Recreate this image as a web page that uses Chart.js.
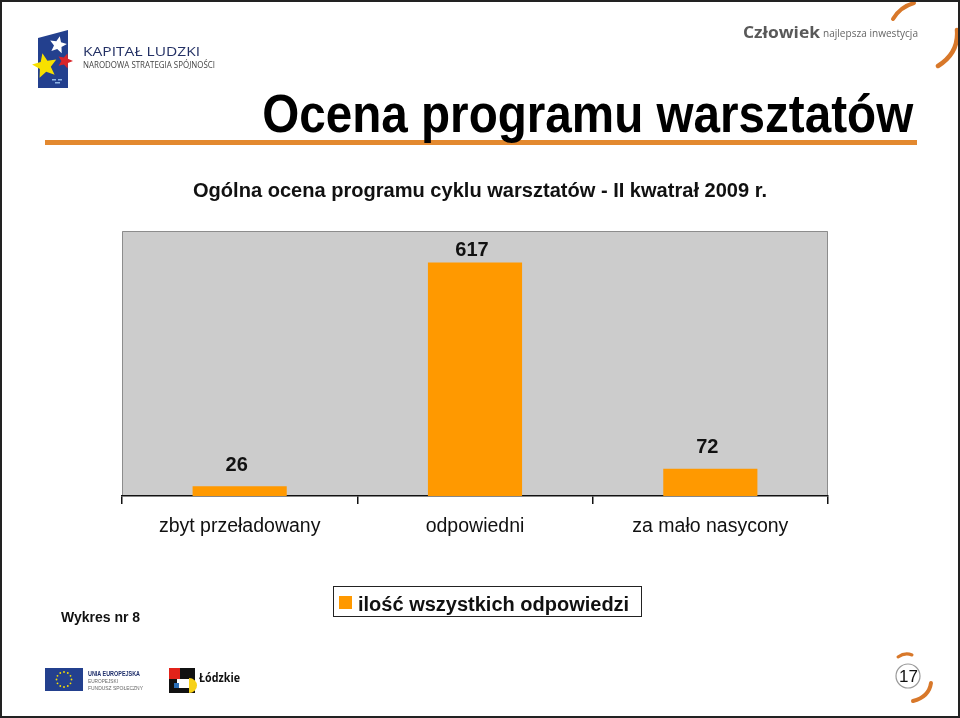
<!DOCTYPE html>
<html lang="pl">
<head>
  <meta charset="UTF-8" />
  <title>Ocena programu warsztatów</title>
  <script src="https://cdn.jsdelivr.net/npm/chart.js"></script>
  <style>
    html, body { margin: 0; padding: 0; background: #fff; }
    body { font-family: "Liberation Sans", Arial, sans-serif; }
    .slide { position: relative; width: 960px; height: 718px; overflow: hidden; background: #fff; }
    .frame {
      position: absolute; left: 0; top: 0; width: 960px; height: 718px;
      box-sizing: border-box; border: 2px solid #222; z-index: 5; pointer-events: none;
    }
    #chart { position: absolute; left: 0; top: 0; z-index: 1; }
    .deco { position: absolute; left: 0; top: 0; z-index: 2; }
    .txt { position: absolute; white-space: nowrap; line-height: 1; z-index: 3; transform-origin: left top; }
    .title { font-size: 54px; font-weight: bold; color: #000; right: 47px; top: 86px; transform-origin: right top; }
    .rule { position: absolute; left: 45px; top: 140px; width: 872px; height: 5px; background: #e3892f; z-index: 2; }
    .subtitle { font-size: 20px; font-weight: bold; color: #111; left: 193px; top: 180px; }
    .kl1 { font-family: "Open Sans", sans-serif; font-size: 13.5px; color: #233064; left: 83px; top: 45px; }
    .kl2 { font-family: "Open Sans", sans-serif; font-size: 8.5px; color: #444; left: 83px; top: 61px; }
    .czl1 { font-family: "Open Sans", sans-serif; font-size: 16px; font-weight: bold; color: #595959; left: 743px; top: 24px; }
    .czl2 { font-family: "Open Sans", sans-serif; font-size: 10px; color: #666; left: 823px; top: 28px; }
    .wykres { font-size: 14px; font-weight: bold; color: #111; left: 61px; top: 610px; }
    .legend {
      position: absolute; left: 333px; top: 586px; width: 309px; height: 31px;
      box-sizing: border-box; border: 1px solid #222; z-index: 3;
    }
    .legend .sw { position: absolute; left: 5px; top: 9px; width: 13px; height: 13px; }
    .legend .lt { position: absolute; left: 24px; top: 7px; font-size: 20px; font-weight: bold; color: #111; line-height: 1; white-space: nowrap; }
    .eu1 { font-size: 6.5px; font-weight: bold; color: #1f2f6b; left: 88px; top: 671px; }
    .eu2 { font-size: 6px; color: #666; left: 88px; top: 678px; }
    .eu3 { font-size: 6px; color: #666; left: 88px; top: 685px; }
    .lodz { font-family: "Open Sans", sans-serif; font-size: 12.5px; font-weight: bold; color: #111; left: 199px; top: 672px; }
    .page { font-size: 17px; color: #111; left: 899px; top: 668px; }
  </style>
</head>
<body>
  <div class="slide">
    <canvas id="chart" width="960" height="718"></canvas>

    <svg class="deco" width="960" height="718" id="deco">
      <!-- Kapitał Ludzki logo -->
      <polygon points="38,38 68,30 68,88 38,88" fill="#23408e" />
      <polygon id="starWhite" fill="#ffffff" />
      <polygon id="starRed" fill="#d9262b" />
      <polygon id="starYellow" fill="#f7e000" />
      <rect x="52" y="79" width="4" height="1.5" fill="#8fb6e6" />
      <rect x="58" y="79" width="4" height="1.5" fill="#8fb6e6" />
      <rect x="55" y="82" width="5" height="1.5" fill="#8fb6e6" />
      <!-- orange arcs top right -->
      <path d="M 893 19 Q 900 7 914 3" stroke="#d8782a" stroke-width="4" fill="none" stroke-linecap="round" />
      <path d="M 957 30 Q 959 53 938 66" stroke="#d8782a" stroke-width="4.5" fill="none" stroke-linecap="round" />
      <!-- EU flag -->
      <rect x="45" y="668" width="38" height="23" fill="#23408e" />
      <g id="euStars" fill="#f7e000"></g>
      <!-- Lodzkie logo -->
      <rect x="169" y="668" width="26" height="25" fill="#111" />
      <rect x="169" y="668" width="11" height="11" fill="#e2231a" />
      <rect x="177" y="679" width="12" height="9" fill="#ffffff" />
      <rect x="174" y="683" width="5" height="5" fill="#2a6fb8" />
      <path d="M 189 678 A 8 7.5 0 0 1 189 693 Z" fill="#f7d117" />
      <!-- page number -->
      <circle cx="908" cy="676" r="12" stroke="#9a9a9a" stroke-width="1.2" fill="none" />
      <path d="M 898 657 Q 905 652 912 655" stroke="#d8782a" stroke-width="3" fill="none" stroke-linecap="round" />
      <path d="M 931 683 Q 929 697 913 701" stroke="#d8782a" stroke-width="4" fill="none" stroke-linecap="round" />
    </svg>

    <div class="txt kl1" data-w="117">KAPITAŁ LUDZKI</div>
    <div class="txt kl2" data-w="132">NARODOWA STRATEGIA SPÓJNOŚCI</div>
    <div class="txt czl1" data-w="77">Człowiek</div>
    <div class="txt czl2" data-w="95">najlepsza inwestycja</div>

    <div class="txt title" data-w="651">Ocena programu warsztatów</div>
    <div class="rule"></div>
    <div class="txt subtitle" data-w="574">Ogólna ocena programu cyklu warsztatów - II kwatrał 2009 r.</div>

    <div class="txt wykres">Wykres nr 8</div>
    <div class="legend" id="legend"></div>

    <div class="txt eu1" data-w="52">UNIA EUROPEJSKA</div>
    <div class="txt eu2" data-w="30">EUROPEJSKI</div>
    <div class="txt eu3" data-w="55">FUNDUSZ SPOŁECZNY</div>
    <div class="txt lodz" data-w="41">Łódzkie</div>
    <div class="txt page">17</div>

    <div class="frame"></div>
  </div>

  <script>
    // data
    const categories = ['zbyt przeładowany', 'odpowiedni', 'za mało nasycony'];
    const responses = [26, 617, 72];
    const seriesLabel = 'ilość wszystkich odpowiedzi';
    const yMax = 700;

    const barColor = '#ff9900';

    // legend (html, below the chart)
    document.getElementById('legend').innerHTML =
      `<div class="sw" style="background:${barColor}"></div><div class="lt">${seriesLabel}</div>`;

    // small logo shapes
    function starPoints(cx, cy, r, rot) {
      const pts = [];
      for (let i = 0; i < 10; i++) {
        const rr = i % 2 ? r * 0.45 : r;
        const a = rot + i * Math.PI / 5 - Math.PI / 2;
        pts.push((cx + rr * Math.cos(a)).toFixed(1) + ',' + (cy + rr * Math.sin(a)).toFixed(1));
      }
      return pts.join(' ');
    }
    document.getElementById('starWhite').setAttribute('points', starPoints(58, 45, 9, 0.2));
    document.getElementById('starRed').setAttribute('points', starPoints(65, 61, 8, 0.3));
    document.getElementById('starYellow').setAttribute('points', starPoints(45, 66, 13, -0.2));
    const euStars = document.getElementById('euStars');
    for (let i = 0; i < 12; i++) {
      const a = i * Math.PI / 6;
      const c = document.createElementNS('http://www.w3.org/2000/svg', 'circle');
      c.setAttribute('cx', (64 + 7.5 * Math.cos(a)).toFixed(1));
      c.setAttribute('cy', (679.5 + 7.5 * Math.sin(a)).toFixed(1));
      c.setAttribute('r', '0.9');
      euStars.appendChild(c);
    }

    // squeeze text to the widths seen on the slide
    function fitText() {
      document.querySelectorAll('[data-w]').forEach(el => {
        el.style.transform = '';
        const k = +el.dataset.w / el.getBoundingClientRect().width;
        el.style.transform = `scaleX(${k})`;
      });
    }
    fitText();
    document.fonts.ready.then(fitText);

    const plotBg = {
      id: 'plotBg',
      beforeDraw(chart) {
        const { ctx, chartArea: a } = chart;
        ctx.save();
        ctx.fillStyle = '#cccccc';
        ctx.fillRect(a.left, a.top, a.width, a.height);
        ctx.strokeStyle = '#8c8c8c';
        ctx.lineWidth = 1;
        ctx.beginPath();
        ctx.moveTo(a.left + 0.5, a.bottom);
        ctx.lineTo(a.left + 0.5, a.top + 0.5);
        ctx.lineTo(a.right - 0.5, a.top + 0.5);
        ctx.lineTo(a.right - 0.5, a.bottom);
        ctx.stroke();
        ctx.restore();
      }
    };

    const valueLabels = {
      id: 'valueLabels',
      afterDatasetsDraw(chart) {
        const { ctx, chartArea: a } = chart;
        const meta = chart.getDatasetMeta(0);
        ctx.save();
        ctx.font = 'bold 20px "Liberation Sans", Arial, sans-serif';
        ctx.fillStyle = '#111';
        ctx.textAlign = 'center';
        ctx.textBaseline = 'middle';
        meta.data.forEach((bar, i) => {
          const y = Math.max(bar.y - 21, a.top + 19);
          ctx.fillText(String(responses[i]), bar.x - 3, y);
        });
        ctx.restore();
      }
    };

    new Chart(document.getElementById('chart'), {
      type: 'bar',
      data: {
        labels: categories,
        datasets: [{
          label: seriesLabel,
          data: responses,
          backgroundColor: barColor,
          borderWidth: 0,
          categoryPercentage: 1,
          barPercentage: 0.4
        }]
      },
      options: {
        responsive: false,
        devicePixelRatio: 1,
        animation: false,
        layout: { padding: { left: 122, right: 132, top: 231, bottom: 182 } },
        plugins: {
          legend: { display: false },
          tooltip: { enabled: false }
        },
        scales: {
          x: {
            afterFit(scale) { scale.height = 40; },
            grid: {
              offset: true,
              drawOnChartArea: false,
              drawTicks: true,
              tickLength: 8,
              color: '#111',
              lineWidth: 1.5
            },
            border: { display: true, color: '#111', width: 1.5 },
            ticks: {
              padding: 11,
              color: '#111',
              font: { family: '"Liberation Sans", Arial, sans-serif', size: 19.5 }
            }
          },
          y: {
            display: false,
            min: 0,
            max: yMax
          }
        }
      },
      plugins: [plotBg, valueLabels]
    });
  </script>
</body>
</html>
